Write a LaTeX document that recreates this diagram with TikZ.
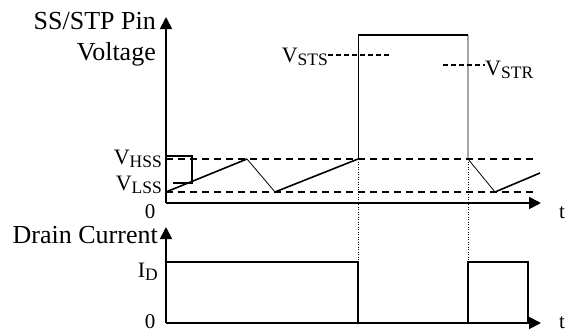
\documentclass[tikz,border=0pt]{standalone}
\usepackage{fontspec}
\setmainfont{Liberation Serif}
\usetikzlibrary{arrows.meta}
\newcommand{\Vlab}[2]{{\fontsize{22}{22}\selectfont #1\raisebox{-3.5pt}{\fontsize{17.5}{17.5}\selectfont #2}}}
\begin{document}
\begin{tikzpicture}[x=1pt,y=-1pt,
  biglbl/.style={inner sep=0pt, font=\fontsize{26}{26}\selectfont},
  smlbl/.style={inner sep=0pt, font=\fontsize{21}{21}\selectfont},
  axisln/.style={line width=1.8pt, -{Triangle[width=12pt,length=12pt]}},
  waveln/.style={line width=1.6pt, line join=miter},
  thinln/.style={line width=0.8pt},
  dotln/.style={line width=0.7pt, dash pattern=on 1pt off 1.5pt},
  levln/.style={line width=1.4pt, dash pattern=on 7pt off 5pt},
  refln/.style={line width=1.4pt, dash pattern=on 5pt off 3pt}]
\useasboundingbox (0,0) rectangle (566,332);

% ---- coordinates: upper plot
\coordinate (o1) at (166,203);
\coordinate (y1) at (166,17);
\coordinate (x1) at (541,203);
% ---- lower plot
\coordinate (o2) at (166,323);
\coordinate (y2) at (166,227);
\coordinate (x2) at (541,323);

% ---- level lines
\coordinate (hssA) at (166,159); \coordinate (hssB) at (533,159);
\coordinate (lssA) at (166,192); \coordinate (lssB) at (533,192);
\draw[levln] (hssA) -- (hssB);
\draw[levln] (lssA) -- (lssB);

% ---- axes
\draw[axisln] (o1) -- (y1);
\draw[axisln] (o1) -- (x1);
\draw[axisln] (o2) -- (y2);
\draw[axisln] (o2) -- (x2);

% ---- SS/STP waveform
\coordinate (w0) at (166,192);
\coordinate (w1) at (247,159);
\coordinate (w2) at (275,192);
\coordinate (w3) at (358,159);
\coordinate (p1) at (358,35);
\coordinate (p2) at (468,35);
\coordinate (w4) at (468,159);
\coordinate (w5) at (495,192);
\coordinate (w6) at (540,173);
\draw[waveln] (w0) -- (w1);
\draw[thinln] (w1) -- (w2);
\draw[waveln] (w2) -- (w3);
\draw[thinln] (w3) -- (p1);
\draw[waveln] (p1) -- (p2);
\draw[thinln] (p2) -- (w4) -- (w5);
\draw[waveln] (w5) -- (w6);

% ---- small bracket at start
\coordinate (b0) at (166,156);
\coordinate (b1) at (192,156);
\coordinate (b2) at (192,183);
\coordinate (b3) at (173,183);
\draw[waveln] (b0) -- (b1) -- (b2) -- (b3);

% ---- drain current
\coordinate (c0) at (166,262);
\coordinate (c1) at (358,262);
\coordinate (c2) at (358,323);
\coordinate (c3) at (468,323);
\coordinate (c4) at (468,262);
\coordinate (c5) at (528,262);
\coordinate (c6) at (528,323);
\draw[waveln] (c0) -- (c1) -- (c2);
\draw[waveln] (c3) -- (c4) -- (c5) -- (c6);

% ---- dotted guides
\draw[dotln] (w3) -- (c1);
\draw[dotln] (w4) -- (c4);

% ---- threshold markers
\coordinate (stsA) at (328,55); \coordinate (stsB) at (390,55);
\coordinate (strA) at (443,65); \coordinate (strB) at (485,65);
\draw[refln] (stsA) -- (stsB);
\draw[refln] (strA) -- (strB);

% ---- labels
\node[biglbl, anchor=base east] (lssstp) at (156,29) {SS/STP Pin};
\node[biglbl, anchor=base east] (lvolt) at (156,60) {Voltage};
\node[inner sep=0pt, anchor=base east] (lhss) at (162,164) {\Vlab{V}{HSS}};
\node[inner sep=0pt, anchor=base east] (llss) at (162,190) {\Vlab{V}{LSS}};
\node[smlbl, anchor=base] (lz1) at (150,218) {0};
\node[smlbl, anchor=base] (lt1) at (562,218) {t};
\node[biglbl, anchor=base east] (ldrain) at (158,243) {Drain Current};
\node[inner sep=0pt, anchor=base east] (lid) at (158,277) {\Vlab{I}{D}};
\node[smlbl, anchor=base] (lz2) at (150,328.5) {0};
\node[smlbl, anchor=base] (lt2) at (562,328) {t};
\node[inner sep=0pt, anchor=base east] (lsts) at (stsA |- 0,62) {\Vlab{V}{STS}};
\node[inner sep=0pt, anchor=base west] (lstr) at (strB |- 0,75) {\Vlab{V}{STR}};
\end{tikzpicture}
\end{document}
